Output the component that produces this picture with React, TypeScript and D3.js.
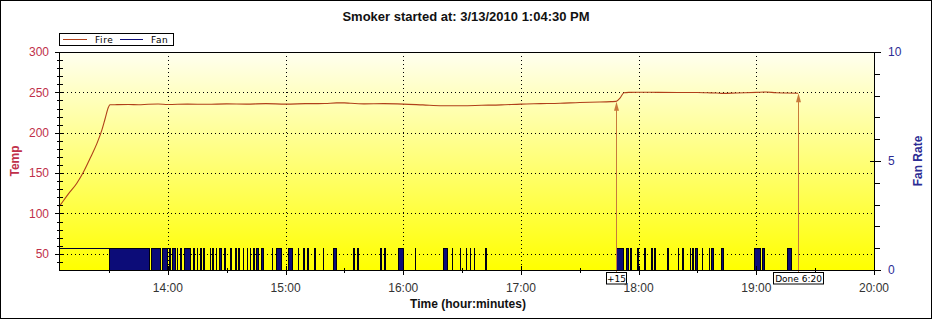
import React from "react";
import * as d3 from "d3";

// minutes after 13:00 on 3/13/2010
const fireMinutes = [4.5, 5.9, 9.2, 13.5, 16.9, 20.3, 23.8, 26.3, 28.0, 29.7, 30.5, 34, 40, 45, 50, 55, 60, 70, 80, 90, 100, 110, 120, 130, 140, 146, 150, 153, 160, 170, 180, 190, 200, 210, 220, 230, 240, 250, 260, 270, 280, 286, 288.5, 290.5, 292.5, 295, 300, 310, 320, 330, 335, 340, 343, 350, 360, 365, 370, 375, 381.3];
const fireTemps = [108.3, 113, 124, 137.2, 151, 168, 186.5, 202.9, 217.3, 231.6, 234.6, 234.8, 235, 234.6, 235.3, 235.6, 235, 235.5, 235.2, 235.8, 235.5, 236, 235.5, 236, 236.2, 237, 237, 236.5, 235.8, 236, 235.5, 234.5, 233.5, 233.5, 234, 234.5, 235.5, 236, 236.5, 237.5, 238, 238.5, 238.8, 243, 249.5, 250, 250.2, 250, 249.8, 249.8, 249.5, 249.2, 248.7, 249.3, 250, 250.5, 249.5, 249.2, 249];

// fan on, steady at start (line only)
const fanSteady = [[4.5, 30.2]];
// fan pulses [on, off], minutes after 13:00
const fanPulses = [
  [30.2, 51.0], [51.7, 56.8], [57.3, 60.2], [60.7, 62.0], [62.5, 64.2], [64.7, 65.5], [66.3, 67.6],
  [68.3, 71.9], [72.9, 73.9], [75.0, 75.7], [76.5, 77.5], [78.3, 79.1], [81.6, 82.3], [82.9, 83.6],
  [84.7, 85.4], [86.2, 87.7], [89.0, 89.8], [91.8, 92.7], [94.6, 95.4], [96.2, 96.9], [98.5, 99.2],
  [100.5, 101.3], [102.0, 102.8], [103.6, 104.8], [105.4, 106.5], [107.9, 109.2], [113.1, 113.9],
  [115.6, 118.6], [121.6, 123.8], [126.7, 127.2], [128.9, 130.1], [131.0, 132.2], [134.9, 135.6],
  [139.5, 140.0], [144.6, 146.6], [154.8, 155.6], [156.9, 157.5], [168.4, 169.3], [170.6, 171.5],
  [177.7, 180.7], [186.3, 186.8], [200.4, 203.3], [205.0, 205.8], [209.3, 209.8], [212.3, 213.0],
  [214.4, 214.9], [216.1, 216.8], [222.0, 222.9], [288.9, 293.0], [294.0, 295.2], [295.8, 296.8],
  [299.3, 300.7], [303.2, 304.2], [306.6, 307.6], [308.3, 309.1], [314.5, 315.7], [320.2, 320.7],
  [322.5, 323.3], [326.4, 327.1], [327.7, 328.4], [329.1, 330.3], [332.7, 333.2], [335.9, 336.6],
  [337.4, 338.5], [342.5, 343.7], [359.0, 362.5], [363.3, 364.5], [376.1, 378.6],
];

const noteLabels = ["+15", "Done 6:20"];
const noteMinutes = [288.4, 381.3];
const noteTemps = [238.5, 249];

const tempTicks = [50, 100, 150, 200, 250, 300];
const fanTicks = [0, 5, 10];
const hourTicks = [14, 15, 16, 17, 18, 19, 20];

const W = 933;
const H = 320;
const P = { left: 59, top: 52, right: 874, bottom: 270 };
const FIRE = "#b0401a";
const NAVY = "#0c0c78";
const ARROW = "#c87a3c";
const TEMPCOL = "#c0304a";
const FANCOL = "#2c2c94";
const FONT = "Arial, 'Liberation Sans', sans-serif";

const base = new Date(2010, 2, 13, 13, 0, 0).getTime();
const toDate = (m: number) => new Date(base + m * 60000);

export default function App() {
  const x = d3.scaleTime().domain([toDate(4.5), toDate(420)]).range([P.left, P.right]);
  const yT = d3.scaleLinear().domain([30, 300]).range([P.bottom, P.top]);
  const yF = d3.scaleLinear().domain([0, 10]).range([P.bottom, P.top]);

  const fireLine = d3
    .line<number>()
    .x((_, i) => x(toDate(fireMinutes[i])))
    .y((d) => yT(d))
    .curve(d3.curveMonotoneX)(fireTemps);

  const minorTemp = d3.range(40, 300, 10).filter((v) => v % 50 !== 0);
  const minorFan = d3.range(1, 10).filter((v) => v !== 5);
  const halfHours = d3.range(13.5, 20, 1);
  const hx = (h: number) => x(toDate((h - 13) * 60));

  return (
    <svg width={W} height={H} style={{ position: "absolute", left: 0, top: 0 }} fontFamily={FONT}>
      <defs>
        <linearGradient id="bg" x1="0" y1="0" x2="0" y2="1">
          <stop offset="0%" stopColor="#fffff0" />
          <stop offset="100%" stopColor="#ffff00" />
        </linearGradient>
      </defs>
      <rect x={0} y={0} width={W} height={H} fill="#fff" />
      <rect x={0.5} y={0.5} width={931} height={318} fill="none" stroke="#000" />

      <text x={466} y={21} textAnchor="middle" fontSize={13} fontWeight="bold" fill="#111">
        Smoker started at: 3/13/2010 1:04:30 PM
      </text>

      {/* legend */}
      <g fontFamily="'DejaVu Sans', sans-serif" fontSize={9}>
        <rect x={59.5} y={33.5} width={114} height={12} fill="#fff" stroke="#000" />
        <line x1={63} x2={87} y1={39.5} y2={39.5} stroke={FIRE} />
        <text x={95} y={43} letterSpacing={0.6}>Fire</text>
        <line x1={120} x2={143} y1={39.5} y2={39.5} stroke={NAVY} />
        <text x={151} y={43} letterSpacing={0.6}>Fan</text>
      </g>

      <rect x={P.left} y={P.top} width={P.right - P.left} height={P.bottom - P.top} fill="url(#bg)" />

      {/* grid */}
      <g stroke="#000" strokeDasharray="1,3" shapeRendering="crispEdges">
        {tempTicks.filter((v) => v < 300).map((v) => (
          <line key={"g" + v} x1={P.left} x2={P.right} y1={Math.round(yT(v)) + 0.5} y2={Math.round(yT(v)) + 0.5} />
        ))}
        {hourTicks.map((h) => (
          <line key={"v" + h} x1={Math.round(hx(h)) + 0.5} x2={Math.round(hx(h)) + 0.5} y1={P.top} y2={P.bottom} />
        ))}
      </g>

      {/* fan */}
      <g shapeRendering="crispEdges">
        {fanSteady.map(([s, e], i) => (
          <path
            key={"s" + i}
            d={`M${x(toDate(s))},${yF(1)}H${x(toDate(e))}V${yF(0)}`}
            fill="none"
            stroke="#000030"
          />
        ))}
        {fanPulses.map(([s, e], i) => {
          const x0 = x(toDate(s));
          const w = x(toDate(e)) - x0;
          return (
            <rect
              key={"p" + i}
              x={x0}
              y={yF(1)}
              width={Math.max(0.1, w - 1)}
              height={yF(0) - yF(1)}
              fill={NAVY}
              stroke="#000014"
              strokeWidth={1}
            />
          );
        })}
      </g>

      <path d={fireLine || ""} fill="none" stroke={FIRE} strokeWidth={1.1} />

      {/* annotations */}
      {noteLabels.map((lab, i) => {
        const ax = Math.round(x(toDate(noteMinutes[i]))) + 0.5;
        const ty = yT(noteTemps[i]);
        const bw = lab.length > 4 ? 50 : 20;
        return (
          <g key={lab}>
            <line x1={ax} x2={ax} y1={272} y2={ty + 6} stroke={ARROW} />
            <path d={`M${ax},${ty}L${ax - 2.5},${ty + 9}L${ax + 2.5},${ty + 9}Z`} fill={ARROW} />
            <rect x={ax - bw / 2} y={272.5} width={bw} height={11.5} fill="#fff" stroke="#000" />
            <text x={ax} y={281.5} textAnchor="middle" fontFamily="'DejaVu Sans', sans-serif" fontSize={9}>
              {lab}
            </text>
          </g>
        );
      })}

      <rect x={P.left + 0.5} y={P.top + 0.5} width={P.right - P.left} height={P.bottom - P.top} fill="none" stroke="#000" />

      {/* left axis */}
      <g stroke="#000" shapeRendering="crispEdges">
        {minorTemp.map((v) => (
          <line key={"mt" + v} x1={57} x2={63} y1={Math.round(yT(v)) + 0.5} y2={Math.round(yT(v)) + 0.5} />
        ))}
        {tempTicks.map((v) => (
          <line key={"t" + v} x1={55} x2={63} y1={Math.round(yT(v)) + 0.5} y2={Math.round(yT(v)) + 0.5} />
        ))}
      </g>
      {tempTicks.map((v) => (
        <text key={"tl" + v} x={49} y={yT(v) + 4.3} textAnchor="end" fontSize={12} fill={TEMPCOL}>
          {v}
        </text>
      ))}
      <text transform={`translate(19,161) rotate(-90)`} textAnchor="middle" fontSize={12} fontWeight="bold" fill={TEMPCOL}>
        Temp
      </text>

      {/* right axis */}
      <g stroke="#000" shapeRendering="crispEdges">
        {minorFan.map((v) => (
          <line key={"mf" + v} x1={875} x2={880} y1={Math.round(yF(v)) + 0.5} y2={Math.round(yF(v)) + 0.5} />
        ))}
        {fanTicks.map((v) => (
          <line key={"f" + v} x1={870} x2={881} y1={Math.round(yF(v)) + 0.5} y2={Math.round(yF(v)) + 0.5} />
        ))}
      </g>
      {fanTicks.map((v) => (
        <text key={"fl" + v} x={888} y={yF(v) + 4.3} fontSize={12} fill={FANCOL}>
          {v}
        </text>
      ))}
      <text transform={`translate(922,161) rotate(-90)`} textAnchor="middle" fontSize={12} fontWeight="bold" fill={FANCOL}>
        Fan Rate
      </text>

      {/* bottom axis */}
      <g stroke="#000" shapeRendering="crispEdges">
        {halfHours.map((h) => (
          <line key={"hh" + h} x1={Math.round(hx(h)) + 0.5} x2={Math.round(hx(h)) + 0.5} y1={268} y2={273} />
        ))}
        {hourTicks.map((h) => (
          <line key={"h" + h} x1={Math.round(hx(h)) + 0.5} x2={Math.round(hx(h)) + 0.5} y1={266} y2={275} />
        ))}
      </g>
      {hourTicks.map((h) => (
        <text key={"hl" + h} x={hx(h)} y={292} textAnchor="middle" fontSize={12} fill="#333">
          {d3.timeFormat("%H:%M")(toDate((h - 13) * 60))}
        </text>
      ))}
      <text x={468} y={308} textAnchor="middle" fontSize={12} fontWeight="bold" fill="#111">
        Time (hour:minutes)
      </text>
    </svg>
  );
}
